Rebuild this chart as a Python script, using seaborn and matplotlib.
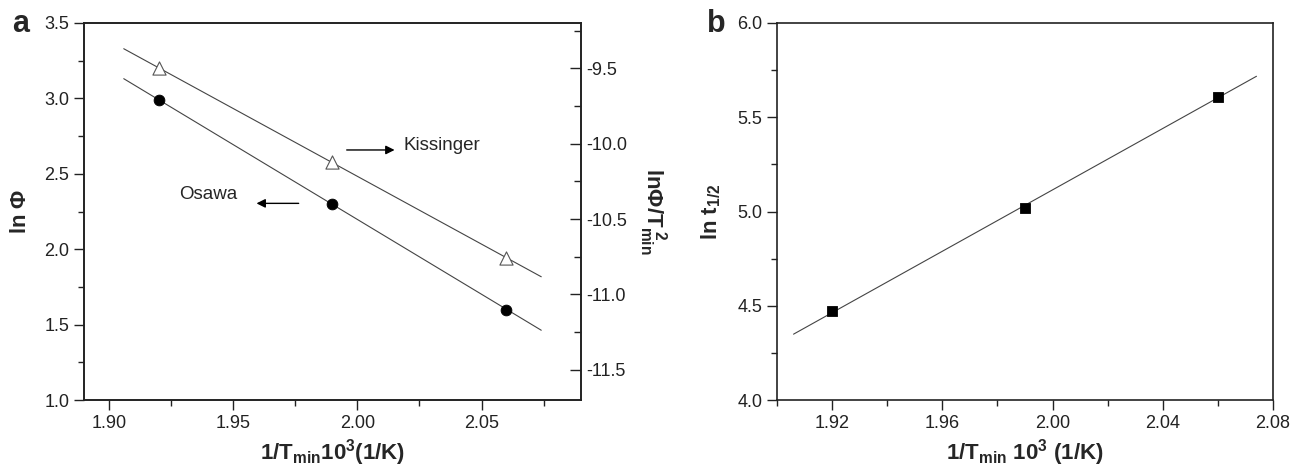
import matplotlib
matplotlib.use("Agg")
import matplotlib.pyplot as plt
from matplotlib.ticker import MultipleLocator
import numpy as np
import pandas as pd
import seaborn as sns

# values
inv_t = [1.92, 1.99, 2.06]
ln_phi = [2.99, 2.30, 1.60]             # Osawa, left axis
ln_phi_t2 = [-9.50, -10.12, -10.76]     # Kissinger, right axis
ln_t_half = [4.47, 5.02, 5.61]          # panel b
fit_range = (1.906, 2.074)

sns.set_style("ticks")
plt.rcParams['font.family'] = ['Liberation Sans', 'DejaVu Sans']
plt.rcParams['mathtext.fontset'] = 'custom'
plt.rcParams['mathtext.rm'] = 'Liberation Sans'
plt.rcParams['mathtext.bf'] = 'Liberation Sans:bold'
plt.rcParams['mathtext.it'] = 'Liberation Sans:italic'

TICK_FS = 13
LABEL_FS = 16


def fit_line(x, y):
    k, b = np.polyfit(x, y, 1)
    xs = np.linspace(*fit_range, 50)
    return pd.DataFrame({'x': xs, 'y': k * xs + b})


def style_axis(ax, direction='out'):
    ax.tick_params(which='major', length=7, width=1, labelsize=TICK_FS, direction=direction,
                   color='#222222', labelcolor='#222222')
    ax.tick_params(which='minor', length=4, width=1, direction=direction, color='#222222')
    for s in ax.spines.values():
        s.set_linewidth(1.2)
        s.set_color('#222222')
        s.set_visible(True)


fig = plt.figure(figsize=(12.92, 4.71), dpi=100)
ax1 = fig.add_axes([0.0650, 0.1507, 0.3847, 0.8005])
ax2 = fig.add_axes([0.6014, 0.1507, 0.3839, 0.8005])

# panel a
osawa = pd.DataFrame({'x': inv_t, 'y': ln_phi})
sns.lineplot(data=fit_line(inv_t, ln_phi), x='x', y='y', ax=ax1, color='#444444', lw=0.8)
sns.scatterplot(data=osawa, x='x', y='y', ax=ax1, color='black', s=60, marker='o', edgecolor='black', zorder=3)
ax1.set_xlim(1.89, 2.09)
ax1.set_ylim(1.0, 3.5)
ax1.xaxis.set_major_locator(MultipleLocator(0.05))
ax1.xaxis.set_minor_locator(MultipleLocator(0.025))
ax1.yaxis.set_major_locator(MultipleLocator(0.5))
ax1.yaxis.set_minor_locator(MultipleLocator(0.25))
ax1.xaxis.set_major_formatter(lambda v, p: f"{v:.2f}")
ax1.yaxis.set_major_formatter(lambda v, p: f"{v:.1f}")
style_axis(ax1)
ax1.tick_params(which='both', top=False, right=False)
ax1.set_xlabel(r'$\mathbf{1/T_{min}10^3(1/K)}$', fontsize=LABEL_FS, labelpad=4)
ax1.set_ylabel(r'$\mathbf{ln\ \Phi}$', fontsize=LABEL_FS, labelpad=10)

ax1r = ax1.twinx()
kiss = pd.DataFrame({'x': inv_t, 'y': ln_phi_t2})
sns.lineplot(data=fit_line(inv_t, ln_phi_t2), x='x', y='y', ax=ax1r, color='#444444', lw=0.8)
sns.scatterplot(data=kiss, x='x', y='y', ax=ax1r, marker='^', s=90, facecolor='white',
                edgecolor='#555555', linewidth=0.8, zorder=3)
ax1r.set_ylim(-11.7, -9.2)
ax1r.yaxis.set_major_locator(MultipleLocator(0.5))
ax1r.yaxis.set_minor_locator(MultipleLocator(0.25))
ax1r.yaxis.set_major_formatter(lambda v, p: f"{v:.1f}")
style_axis(ax1r, direction='in')
ax1r.tick_params(which='major', length=8)
ax1r.tick_params(which='minor', length=5)
ax1r.set_ylabel(r'$\mathbf{ln\Phi/T_{min}^{\ 2}}$', fontsize=LABEL_FS, rotation=270, labelpad=30)

ax1.annotate('', xy=(2.0161, 2.658), xytext=(1.9946, 2.658),
             arrowprops=dict(arrowstyle='-|>', color='black', lw=1, mutation_scale=13))
ax1.text(2.0187, 2.686, 'Kissinger', fontsize=13.5, va='center', ha='left')
ax1.annotate('', xy=(1.9583, 2.304), xytext=(1.9775, 2.304),
             arrowprops=dict(arrowstyle='-|>', color='black', lw=1, mutation_scale=13))
ax1.text(1.9281, 2.366, 'Osawa', fontsize=13.5, va='center', ha='left')

fig.text(0.009, 0.932, 'a', fontsize=22, fontweight='bold')

# panel b
half = pd.DataFrame({'x': inv_t, 'y': ln_t_half})
sns.lineplot(data=fit_line(inv_t, ln_t_half), x='x', y='y', ax=ax2, color='#444444', lw=0.8)
sns.scatterplot(data=half, x='x', y='y', ax=ax2, color='black', s=55, marker='s', edgecolor='black', zorder=3)
ax2.set_xlim(1.90, 2.08)
ax2.set_ylim(4.0, 6.0)
ax2.set_xticks([1.92, 1.96, 2.00, 2.04, 2.08])
ax2.set_xticks([1.90, 1.94, 1.98, 2.02, 2.06], minor=True)
ax2.yaxis.set_major_locator(MultipleLocator(0.5))
ax2.yaxis.set_minor_locator(MultipleLocator(0.25))
ax2.xaxis.set_major_formatter(lambda v, p: f"{v:.2f}")
ax2.yaxis.set_major_formatter(lambda v, p: f"{v:.1f}")
style_axis(ax2)
ax2.tick_params(which='both', top=False, right=False)
ax2.set_xlabel(r'$\mathbf{1/T_{min}\ 10^3\ (1/K)}$', fontsize=LABEL_FS, labelpad=4)
ax2.set_ylabel(r'$\mathbf{ln\ t_{1/2}}$', fontsize=LABEL_FS, labelpad=10)

fig.text(0.547, 0.932, 'b', fontsize=22, fontweight='bold')

fig.savefig('out.png', dpi=100)
